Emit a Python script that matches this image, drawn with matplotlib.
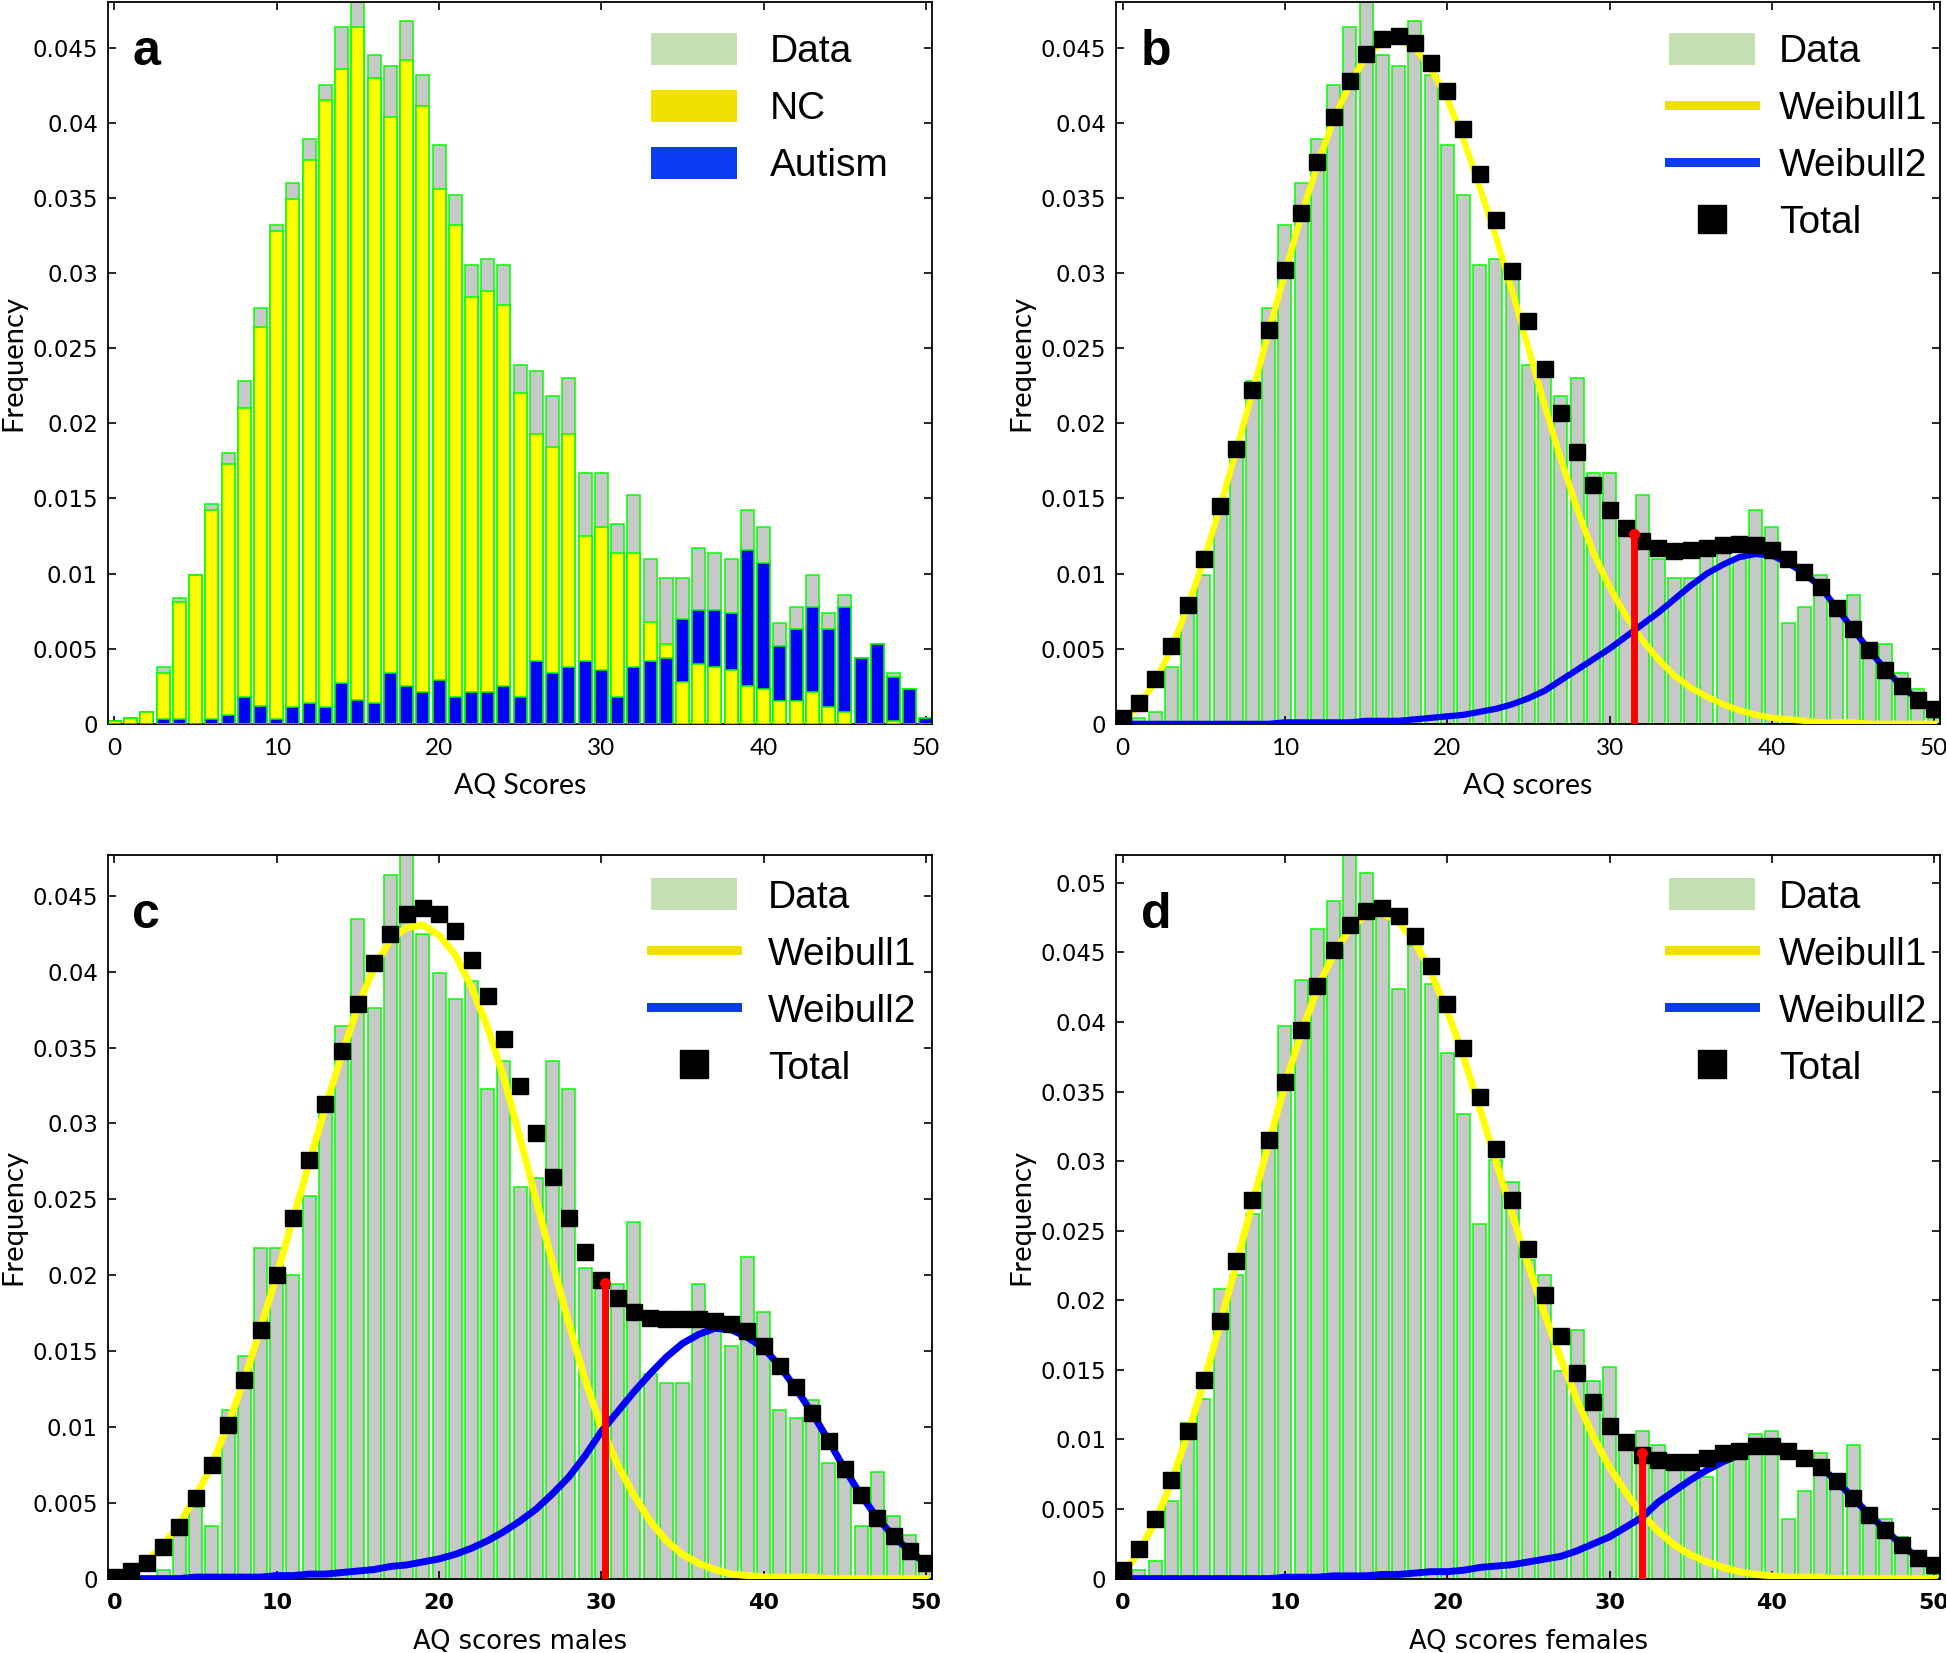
import numpy as np
import matplotlib
matplotlib.use("Agg")
import matplotlib.pyplot as plt
from matplotlib.patches import Patch
from matplotlib.lines import Line2D

# AQ score bins 0..50
scores = np.arange(51)

# panel a: whole sample, split into NC and Autism
data_all = [0.0002, 0.0004, 0.0008, 0.0038, 0.0084, 0.0099, 0.0146, 0.0180, 0.0228, 0.0277,
            0.0332, 0.0360, 0.0389, 0.0425, 0.0464, 0.0490, 0.0445, 0.0438, 0.0468, 0.0432,
            0.0385, 0.0352, 0.0305, 0.0309, 0.0305, 0.0239, 0.0235, 0.0218, 0.0230, 0.0167,
            0.0167, 0.0133, 0.0152, 0.0110, 0.0097, 0.0097, 0.0117, 0.0114, 0.0110, 0.0142,
            0.0131, 0.0067, 0.0078, 0.0099, 0.0074, 0.0086, 0.0044, 0.0053, 0.0034, 0.0023,
            0.0004]
nc = [0.0002, 0.0004, 0.0008, 0.0034, 0.0081, 0.0099, 0.0142, 0.0173, 0.0210, 0.0264,
      0.0328, 0.0349, 0.0375, 0.0415, 0.0436, 0.0464, 0.0430, 0.0404, 0.0442, 0.0411,
      0.0356, 0.0332, 0.0284, 0.0288, 0.0279, 0.0220, 0.0193, 0.0184, 0.0193, 0.0125,
      0.0131, 0.0114, 0.0114, 0.0068, 0.0053, 0.0028, 0.0040, 0.0038, 0.0036, 0.0025,
      0.0023, 0.0015, 0.0015, 0.0021, 0.0011, 0.0008, 0.0, 0.0, 0.0002, 0.0,
      0.0]
autism = [0.0, 0.0, 0.0, 0.0003, 0.0003, 0.0, 0.0003, 0.0006, 0.0018, 0.0012,
          0.0003, 0.0011, 0.0014, 0.0011, 0.0027, 0.0016, 0.0014, 0.0034, 0.0025, 0.0021,
          0.0029, 0.0018, 0.0021, 0.0021, 0.0025, 0.0018, 0.0042, 0.0034, 0.0038, 0.0042,
          0.0036, 0.0018, 0.0038, 0.0042, 0.0044, 0.0070, 0.0076, 0.0076, 0.0074, 0.0116,
          0.0107, 0.0052, 0.0063, 0.0078, 0.0063, 0.0078, 0.0044, 0.0053, 0.0031, 0.0023,
          0.0004]

# panel b: whole sample, two-Weibull fit
total_b = [0.0004, 0.0014, 0.0030, 0.0052, 0.0079, 0.0110, 0.0145, 0.0183, 0.0222, 0.0262,
           0.0302, 0.0340, 0.0374, 0.0404, 0.0428, 0.0446, 0.0456, 0.0458, 0.0453, 0.0440,
           0.0421, 0.0396, 0.0366, 0.0335, 0.0301, 0.0268, 0.0236, 0.0207, 0.0181, 0.0159,
           0.0142, 0.0130, 0.0122, 0.0117, 0.0115, 0.0116, 0.0117, 0.0119, 0.0120, 0.0119,
           0.0116, 0.0110, 0.0101, 0.0091, 0.0077, 0.0063, 0.0049, 0.0036, 0.0025, 0.0016,
           0.0010]
weib1_b = [0.0002, 0.0012, 0.0028, 0.0050, 0.0078, 0.0109, 0.0144, 0.0182, 0.0221, 0.0261,
           0.0300, 0.0338, 0.0372, 0.0402, 0.0426, 0.0444, 0.0454, 0.0455, 0.0450, 0.0436,
           0.0416, 0.0389, 0.0357, 0.0324, 0.0288, 0.0250, 0.0212, 0.0176, 0.0143, 0.0114,
           0.0091, 0.0072, 0.0056, 0.0043, 0.0032, 0.0024, 0.0018, 0.0013, 0.0009, 0.0006,
           0.0004, 0.0003, 0.0002, 0.0001, 0.0001, 0.0001, 0.0, 0.0, 0.0, 0.0,
           0.0]
weib2_b = [0.0, 0.0, 0.0, 0.0, 0.0, 0.0, 0.0, 0.0, 0.0, 0.0,
           0.0001, 0.0001, 0.0001, 0.0001, 0.0001, 0.0002, 0.0002, 0.0002, 0.0003, 0.0004,
           0.0005, 0.0006, 0.0008, 0.0010, 0.0013, 0.0017, 0.0022, 0.0029, 0.0036, 0.0043,
           0.0050, 0.0058, 0.0066, 0.0074, 0.0083, 0.0092, 0.0100, 0.0106, 0.0111, 0.0113,
           0.0112, 0.0107, 0.0100, 0.0091, 0.0077, 0.0063, 0.0049, 0.0036, 0.0025, 0.0016,
           0.0010]
cut_b = (31.5, 0.0126)

# panel c: males
data_m = [0.0, 0.0, 0.0, 0.0006, 0.0030, 0.0047, 0.0035, 0.0111, 0.0147, 0.0218,
          0.0218, 0.0200, 0.0252, 0.0311, 0.0364, 0.0435, 0.0376, 0.0464, 0.0490, 0.0425,
          0.0399, 0.0382, 0.0394, 0.0323, 0.0341, 0.0258, 0.0264, 0.0341, 0.0323, 0.0205,
          0.0193, 0.0194, 0.0235, 0.0135, 0.0129, 0.0129, 0.0194, 0.0163, 0.0153, 0.0212,
          0.0176, 0.0111, 0.0106, 0.0118, 0.0076, 0.0076, 0.0035, 0.0070, 0.0041, 0.0029,
          0.0008]
total_m = [0.0001, 0.0005, 0.0010, 0.0021, 0.0034, 0.0053, 0.0075, 0.0101, 0.0131, 0.0164,
           0.0200, 0.0238, 0.0276, 0.0313, 0.0348, 0.0379, 0.0406, 0.0425, 0.0438, 0.0442,
           0.0438, 0.0427, 0.0408, 0.0384, 0.0356, 0.0325, 0.0294, 0.0265, 0.0238, 0.0215,
           0.0197, 0.0185, 0.0176, 0.0172, 0.0171, 0.0171, 0.0171, 0.0170, 0.0168, 0.0163,
           0.0153, 0.0140, 0.0126, 0.0109, 0.0091, 0.0072, 0.0055, 0.0040, 0.0028, 0.0018,
           0.0010]
weib1_m = [0.0001, 0.0005, 0.0011, 0.0022, 0.0036, 0.0054, 0.0075, 0.0102, 0.0131, 0.0165,
           0.0200, 0.0237, 0.0274, 0.0311, 0.0345, 0.0377, 0.0403, 0.0421, 0.0429, 0.0431,
           0.0424, 0.0411, 0.0390, 0.0363, 0.0330, 0.0290, 0.0249, 0.0208, 0.0168, 0.0131,
           0.0100, 0.0075, 0.0055, 0.0038, 0.0025, 0.0016, 0.0010, 0.0006, 0.0003, 0.0002,
           0.0001, 0.0001, 0.0001, 0.0001, 0.0, 0.0, 0.0, 0.0, 0.0, 0.0,
           0.0]
weib2_m = [0.0, 0.0, 0.0, 0.0, 0.0, 0.0001, 0.0001, 0.0001, 0.0001, 0.0001,
           0.0002, 0.0002, 0.0003, 0.0003, 0.0004, 0.0005, 0.0006, 0.0008, 0.0009, 0.0011,
           0.0013, 0.0016, 0.0020, 0.0025, 0.0031, 0.0038, 0.0046, 0.0056, 0.0067, 0.0081,
           0.0097, 0.0110, 0.0123, 0.0135, 0.0146, 0.0155, 0.0161, 0.0165, 0.0164, 0.0159,
           0.0152, 0.0140, 0.0125, 0.0109, 0.0091, 0.0072, 0.0055, 0.0040, 0.0028, 0.0018,
           0.0010]
cut_m = (30.2, 0.0195)

# panel d: females
data_f = [0.0, 0.0006, 0.0013, 0.0056, 0.0112, 0.0129, 0.0208, 0.0218, 0.0262, 0.0312,
          0.0397, 0.0430, 0.0467, 0.0487, 0.0525, 0.0507, 0.0480, 0.0424, 0.0455, 0.0427,
          0.0378, 0.0334, 0.0255, 0.0301, 0.0285, 0.0229, 0.0218, 0.0149, 0.0179, 0.0142,
          0.0152, 0.0095, 0.0106, 0.0096, 0.0085, 0.0080, 0.0073, 0.0088, 0.0092, 0.0104,
          0.0106, 0.0043, 0.0063, 0.0090, 0.0068, 0.0096, 0.0049, 0.0043, 0.0030, 0.0016,
          0.0003]
total_f = [0.0006, 0.0021, 0.0043, 0.0071, 0.0106, 0.0143, 0.0185, 0.0228, 0.0272, 0.0315,
           0.0357, 0.0394, 0.0426, 0.0452, 0.0470, 0.0480, 0.0482, 0.0476, 0.0462, 0.0440,
           0.0413, 0.0381, 0.0346, 0.0309, 0.0272, 0.0237, 0.0204, 0.0174, 0.0148, 0.0127,
           0.0110, 0.0098, 0.0089, 0.0085, 0.0084, 0.0084, 0.0087, 0.0090, 0.0092, 0.0095,
           0.0095, 0.0092, 0.0087, 0.0080, 0.0070, 0.0058, 0.0046, 0.0035, 0.0024, 0.0015,
           0.0010]
weib1_f = [0.0003, 0.0019, 0.0041, 0.0069, 0.0104, 0.0141, 0.0183, 0.0226, 0.0270, 0.0313,
           0.0355, 0.0392, 0.0424, 0.0449, 0.0467, 0.0477, 0.0478, 0.0472, 0.0458, 0.0435,
           0.0408, 0.0375, 0.0338, 0.0300, 0.0262, 0.0225, 0.0190, 0.0158, 0.0128, 0.0102,
           0.0080, 0.0062, 0.0046, 0.0034, 0.0024, 0.0017, 0.0012, 0.0008, 0.0005, 0.0003,
           0.0002, 0.0001, 0.0001, 0.0001, 0.0, 0.0, 0.0, 0.0, 0.0, 0.0,
           0.0]
weib2_f = [0.0, 0.0, 0.0, 0.0, 0.0, 0.0, 0.0, 0.0, 0.0, 0.0,
           0.0001, 0.0001, 0.0001, 0.0002, 0.0002, 0.0002, 0.0003, 0.0003, 0.0004, 0.0005,
           0.0005, 0.0006, 0.0008, 0.0009, 0.0010, 0.0012, 0.0014, 0.0016, 0.0020, 0.0025,
           0.0030, 0.0037, 0.0044, 0.0055, 0.0063, 0.0071, 0.0078, 0.0084, 0.0089, 0.0093,
           0.0094, 0.0092, 0.0087, 0.0080, 0.0070, 0.0058, 0.0046, 0.0035, 0.0024, 0.0015,
           0.0010]
cut_f = (32.0, 0.0090)

xticks = [0, 10, 20, 30, 40, 50]
yticks_045 = [0, 0.005, 0.01, 0.015, 0.02, 0.025, 0.03, 0.035, 0.04, 0.045]
ylabels_045 = ["0", "0.005", "0.01", "0.015", "0.02", "0.025", "0.03", "0.035", "0.04", "0.045"]
yticks_05 = yticks_045 + [0.05]
ylabels_05 = ylabels_045 + ["0.05"]

GRAY = "#c8c8c8"
GREEN = "#00ff00"
YELLOW = "#ffff00"
BLUE = "#0000ff"
LEG_GREEN = "#c5e1b3"
LEG_YELLOW = "#f0e200"
LEG_BLUE = "#0a3cf2"


def style_axes(ax, ymax, yticks, ylabels, xlabel, letter, letter_y, bold_x):
    ax.set_xlim(-0.42, 50.38)
    ax.set_ylim(0, ymax)
    ax.set_xticks(xticks)
    if bold_x:
        ax.set_xticklabels([str(t) for t in xticks], family="DejaVu Sans",
                           fontsize=16, fontweight="bold")
    else:
        ax.set_xticklabels([str(t) for t in xticks], family="Lato", fontsize=17.5)
    ax.set_yticks(yticks)
    ax.set_yticklabels(ylabels, family="DejaVu Sans", fontsize=16.5)
    ax.tick_params(direction="in", top=True, right=True, length=6, width=1.2)
    ax.tick_params(axis="x", pad=10)
    ax.tick_params(axis="y", pad=7)
    for sp in ax.spines.values():
        sp.set_linewidth(1.3)
    if bold_x:
        ax.set_xlabel(xlabel, family="DejaVu Sans", fontsize=18.5)
        ax.xaxis.set_label_coords(0.5, -0.069)
    else:
        ax.set_xlabel(xlabel, family="Lato", fontsize=20.5)
        ax.xaxis.set_label_coords(0.5, -0.068)
    ax.set_ylabel("Frequency", family="Lato", fontsize=21)
    ax.yaxis.set_label_coords(-0.099, 0.5)
    ax.text(0.03, letter_y, letter, transform=ax.transAxes, fontsize=36,
            fontweight="bold", family="Liberation Sans", va="baseline")


def plot_fit(ax, data, weib1, weib2, total, cut, lw):
    ax.bar(scores, data, width=0.8, color=GRAY, edgecolor=GREEN, linewidth=1.1, zorder=1)
    ax.plot(scores, weib1, color=YELLOW, lw=lw, zorder=3, solid_joinstyle="round")
    ax.plot(scores, weib2, color=BLUE, lw=lw, zorder=4, solid_joinstyle="round")
    ax.plot(scores, total, ls="none", marker="s", markersize=11, color="black", zorder=5)
    # threshold between the two components
    ax.plot([cut[0], cut[0]], [0, cut[1]], color="red", lw=5, zorder=6)
    ax.plot([cut[0]], [cut[1]], marker="o", markersize=7, color="red", zorder=6)
    handles = [Patch(facecolor=LEG_GREEN, edgecolor="none"),
               Line2D([], [], color=LEG_YELLOW, lw=6.5),
               Line2D([], [], color=LEG_BLUE, lw=6.5),
               Line2D([], [], ls="none", marker="s", markersize=20, color="black")]
    return handles


fig = plt.figure(figsize=(19.46, 16.53), dpi=100)
ax_a = fig.add_axes([0.0553, 0.5621, 0.4237, 0.4364])
ax_b = fig.add_axes([0.5734, 0.5621, 0.4237, 0.4364])
ax_c = fig.add_axes([0.0553, 0.0450, 0.4237, 0.4378])
ax_d = fig.add_axes([0.5734, 0.0450, 0.4237, 0.4378])

leg_kw = dict(loc="upper left", frameon=False, borderpad=0, borderaxespad=0,
              prop={"family": "Liberation Sans", "size": 28},
              handlelength=2.2, handleheight=0.9, labelspacing=0.5)
fit_labels = ["Data", "Weibull1", "Weibull2", "Total"]

# a: overlapping bars, smaller group drawn in front
nc_arr = np.array(nc)
aut_arr = np.array(autism)
nc_big = nc_arr >= aut_arr
ax_a.bar(scores, data_all, width=0.8, color=GRAY, edgecolor=GREEN, linewidth=1.1, zorder=1)
ax_a.bar(scores, np.maximum(nc_arr, aut_arr), width=0.8,
         color=np.where(nc_big, YELLOW, BLUE), edgecolor=GREEN, linewidth=1.1, zorder=2)
ax_a.bar(scores, np.minimum(nc_arr, aut_arr), width=0.8,
         color=np.where(nc_big, BLUE, YELLOW), edgecolor=GREEN, linewidth=1.1, zorder=3)
style_axes(ax_a, 0.048, yticks_045, ylabels_045, "AQ Scores", "a", 0.914, False)
ax_a.legend([Patch(facecolor=LEG_GREEN, edgecolor="none"),
             Patch(facecolor=LEG_YELLOW, edgecolor="none"),
             Patch(facecolor=LEG_BLUE, edgecolor="none")],
            ["Data", "NC", "Autism"], bbox_to_anchor=(0.659, 0.958),
            handletextpad=0.85, **leg_kw)

# b
h = plot_fit(ax_b, data_all, weib1_b, weib2_b, total_b, cut_b, 4.5)
style_axes(ax_b, 0.048, yticks_045, ylabels_045, "AQ scores", "b", 0.914, False)
ax_b.legend(h, fit_labels, bbox_to_anchor=(0.671, 0.958), handletextpad=0.62, **leg_kw)

# c
h = plot_fit(ax_c, data_m, weib1_m, weib2_m, total_m, cut_m, 5)
style_axes(ax_c, 0.0477, yticks_045, ylabels_045, "AQ scores males", "c", 0.899, True)
ax_c.legend(h, fit_labels, bbox_to_anchor=(0.659, 0.968), handletextpad=0.8, **leg_kw)

# d
h = plot_fit(ax_d, data_f, weib1_f, weib2_f, total_f, cut_f, 5)
style_axes(ax_d, 0.052, yticks_05, ylabels_05, "AQ scores females", "d", 0.899, True)
ax_d.legend(h, fit_labels, bbox_to_anchor=(0.671, 0.968), handletextpad=0.62, **leg_kw)

fig.savefig("out.png", dpi=100)
